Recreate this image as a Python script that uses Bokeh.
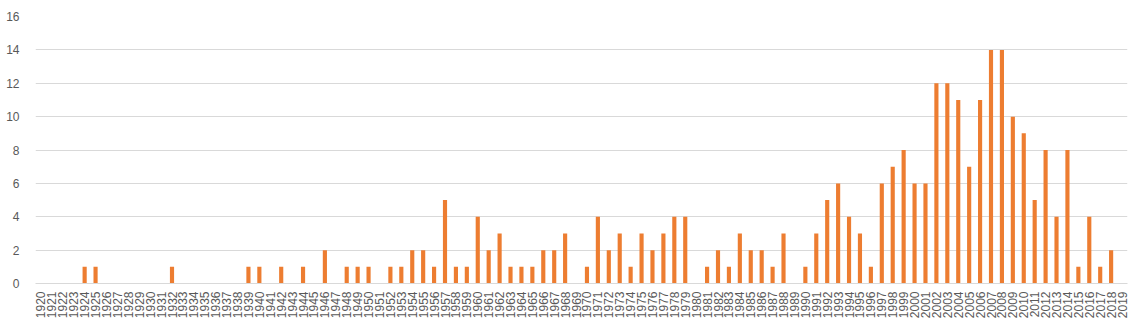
import math
from bokeh.plotting import figure
from bokeh.models import FactorRange, Range1d, ColumnDataSource, SingleIntervalTicker
from bokeh.embed import file_html
from bokeh.resources import INLINE

years = [str(y) for y in range(1920, 2020)]
counts = [
    0, 0, 0, 0, 1, 1, 0, 0, 0, 0,   # 1920-1929
    0, 0, 1, 0, 0, 0, 0, 0, 0, 1,   # 1930-1939
    1, 0, 1, 0, 1, 0, 2, 0, 1, 1,   # 1940-1949
    1, 0, 1, 1, 2, 2, 1, 5, 1, 1,   # 1950-1959
    4, 2, 3, 1, 1, 1, 2, 2, 3, 0,   # 1960-1969
    1, 4, 2, 3, 1, 3, 2, 3, 4, 4,   # 1970-1979
    0, 1, 2, 1, 3, 2, 2, 1, 3, 0,   # 1980-1989
    1, 3, 5, 6, 4, 3, 1, 6, 7, 8,   # 1990-1999
    6, 6, 12, 12, 11, 7, 11, 14, 14, 10,  # 2000-2009
    9, 5, 8, 4, 8, 1, 4, 1, 2, 0,   # 2010-2019
]
y_max = 16
y_step = 2

src = ColumnDataSource(dict(year=years, count=counts))

p = figure(
    width=1142, height=330,
    x_range=FactorRange(factors=years, range_padding=0),
    y_range=Range1d(0, y_max),
    output_backend="svg", toolbar_location=None,
    min_border_left=35, min_border_right=15, min_border_top=16, min_border_bottom=47,
)
p.vbar(x="year", top="count", width=0.38, source=src, color="#ED7D31", line_color=None)

p.outline_line_color = None
p.background_fill_color = "white"
p.border_fill_color = "white"

p.xgrid.grid_line_color = None
p.ygrid.grid_line_color = "#d9d9d9"
p.ygrid.grid_line_width = 1
p.yaxis.ticker = SingleIntervalTicker(interval=y_step)

p.yaxis.axis_line_color = None
p.yaxis.major_tick_line_color = None
p.yaxis.minor_tick_line_color = None
p.yaxis.major_tick_out = 0
p.yaxis.major_label_standoff = 12
p.yaxis.major_label_text_font = "Liberation Sans"
p.yaxis.major_label_text_font_size = "12px"
p.yaxis.major_label_text_color = "#595959"

p.xaxis.axis_line_color = "#d9d9d9"
p.xaxis.major_tick_line_color = None
p.xaxis.major_tick_out = 0
p.xaxis.major_label_orientation = math.pi / 2
p.xaxis.major_label_standoff = 8
p.xaxis.major_label_text_font = "Liberation Sans"
p.xaxis.major_label_text_font_size = "12px"
p.xaxis.major_label_text_color = "#595959"

open("out.html", "w").write(file_html(p, INLINE))
